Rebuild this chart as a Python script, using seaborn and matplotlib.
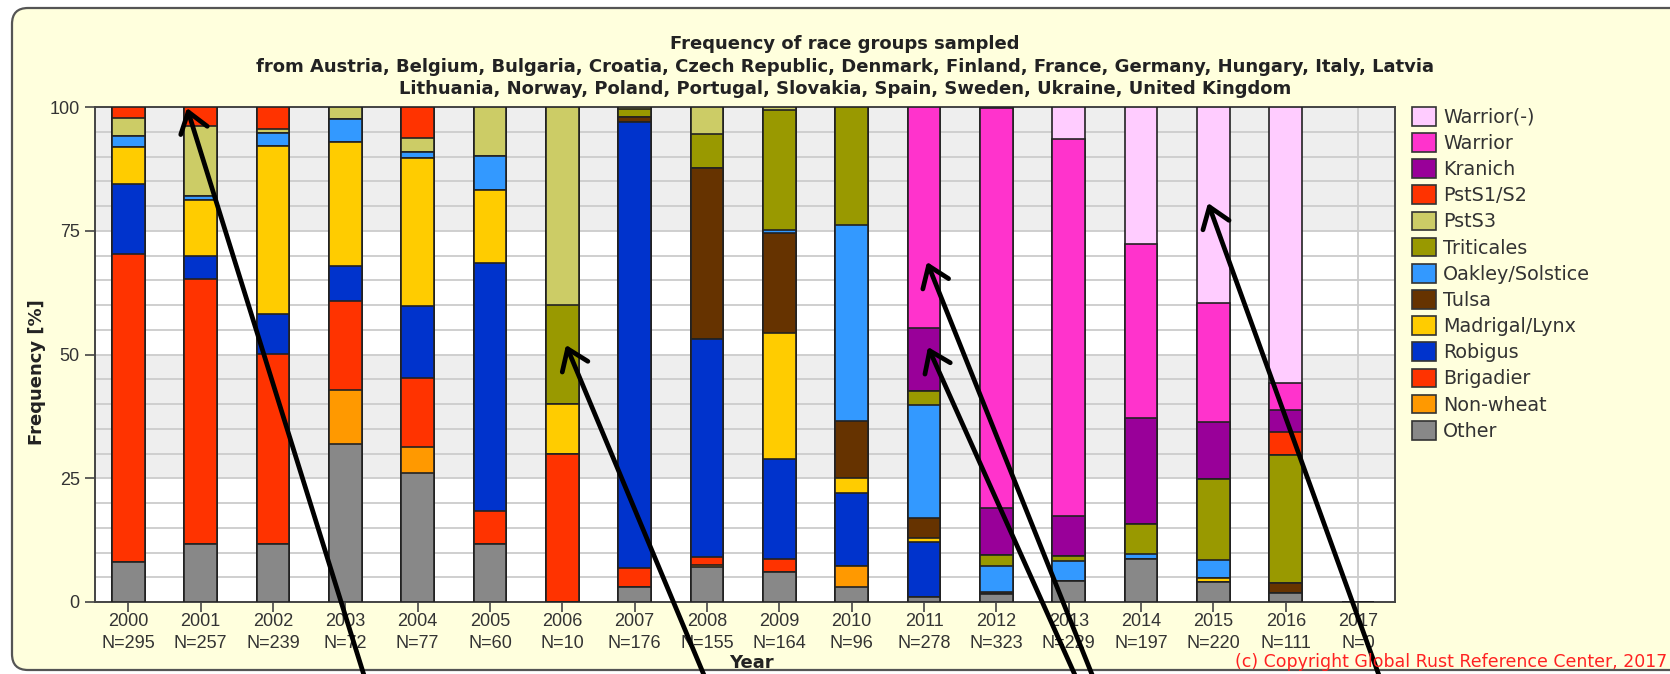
import matplotlib
matplotlib.use("Agg")
import matplotlib.pyplot as plt
from matplotlib.patches import Patch, FancyBboxPatch
from matplotlib.transforms import IdentityTransform
import seaborn as sns
import numpy as np

# ---- data -------------------------------------------------------------
years = [str(y) for y in range(2000, 2018)]
sample_sizes = [295, 257, 239, 72, 77, 60, 10, 176, 155, 164, 96, 278, 323,
                229, 197, 220, 111, 0]

# percent of isolates per race group, stacked bottom to top
other     = [8.0, 11.7, 11.7, 31.9, 26.0, 11.7, 0, 3.1, 7.0, 6.0, 3.1, 1.1, 1.7, 4.3, 8.7, 4.0, 1.8, 0]
non_wheat = [0, 0, 0, 11.0, 5.3, 0, 0, 0, 0.5, 0, 4.2, 0, 0, 0, 0, 0, 0, 0]
brigadier = [62.3, 53.6, 38.4, 18.0, 13.9, 6.6, 30, 3.7, 1.5, 2.7, 0, 0, 0, 0, 0, 0, 0, 0]
robigus   = [14.2, 4.6, 8.0, 7.0, 14.5, 50.1, 0, 90.2, 44.1, 20.1, 14.8, 11.0, 0, 0, 0, 0, 0, 0]
madrigal  = [7.5, 11.4, 34.0, 25.1, 30.0, 14.9, 10, 0, 0, 25.6, 2.9, 0.8, 0, 0, 0, 0.8, 0, 0]
tulsa     = [0, 0, 0, 0, 0, 0, 0, 1.0, 34.6, 20.1, 11.6, 4.1, 0.4, 0, 0, 0, 2.0, 0]
oakley    = [2.1, 0.7, 2.7, 4.5, 1.2, 6.8, 0, 0, 0, 0.7, 39.6, 22.7, 5.2, 4.0, 1.0, 3.7, 0, 0]
triticale = [0, 0, 0, 0, 0, 0, 20, 1.6, 6.8, 24.2, 23.8, 2.9, 2.1, 0.9, 6.0, 16.3, 25.9, 0]
psts3     = [3.7, 14.2, 0.7, 2.5, 2.9, 9.9, 40, 0.4, 5.5, 0.6, 0, 0, 0, 0, 0, 0, 0, 0]
psts1_s2  = [2.2, 3.85, 4.5, 0, 6.2, 0, 0, 0, 0, 0, 0, 0, 0, 0, 0, 0, 4.7, 0]
kranich   = [0, 0, 0, 0, 0, 0, 0, 0, 0, 0, 0, 12.7, 9.5, 8.2, 21.4, 11.6, 4.4, 0]
warrior   = [0, 0, 0, 0, 0, 0, 0, 0, 0, 0, 0, 44.7, 80.8, 76.1, 35.2, 24.1, 5.4, 0]
warrior_m = [0, 0, 0, 0, 0, 0, 0, 0, 0, 0, 0, 0, 0.3, 6.5, 27.7, 39.5, 55.8, 0]

group_names = ["Other", "Non-wheat", "Brigadier", "Robigus", "Madrigal/Lynx",
               "Tulsa", "Oakley/Solstice", "Triticales", "PstS3", "PstS1/S2",
               "Kranich", "Warrior", "Warrior(-)"]
group_values = [other, non_wheat, brigadier, robigus, madrigal, tulsa, oakley,
                triticale, psts3, psts1_s2, kranich, warrior, warrior_m]
group_colors = ["#888888", "#FF9900", "#FF3300", "#0033CC", "#FFCC00",
                "#663300", "#3399FF", "#999900", "#CCCC66", "#FF3300",
                "#990099", "#FF33CC", "#FFCCFF"]

tick_labels = [f"{y}\nN={n}" for y, n in zip(years, sample_sizes)]

# ---- figure -----------------------------------------------------------
W, H = 1670, 674
plt.rcParams["font.family"] = ["Liberation Sans", "DejaVu Sans"]
fig = plt.figure(figsize=(W / 100, H / 100), dpi=100, facecolor="white")

# pale yellow rounded panel behind everything
panel = FancyBboxPatch((12, 4), 1720, 662, boxstyle="round,pad=0,rounding_size=16",
                       transform=IdentityTransform(), facecolor="#FFFFDD",
                       edgecolor="#555555", linewidth=1.6, zorder=-10)
fig.patches.append(panel)

ax_l, ax_r, ax_t, ax_b = 95, 1395, 107, 602
ax = fig.add_axes([ax_l / W, (H - ax_b) / H, (ax_r - ax_l) / W, (ax_b - ax_t) / H])
ax.set_zorder(1)
ax.set_facecolor("white")

# alternating horizontal bands
for lo, hi in [(25, 50), (75, 100)]:
    ax.axhspan(lo, hi, color="#EEEEEE", zorder=0, lw=0)

# stacked bars: paint cumulative totals from the top group downwards
cum = np.cumsum(np.array(group_values), axis=0)
for i in range(len(group_names) - 1, -1, -1):
    sns.barplot(x=tick_labels, y=cum[i], order=tick_labels, color=group_colors[i],
                saturation=1, width=0.45, edgecolor="#222222", linewidth=1.2,
                errorbar=None, ax=ax, zorder=3)

ax.set_xlim(-0.46, 17.51)
ax.set_ylim(0, 100)
ax.set_yticks([0, 25, 50, 75, 100])
ax.set_yticks(np.arange(0, 101, 5), minor=True)
ax.grid(True, which="both", axis="y", color="#CCCCCC", linewidth=1.3, zorder=1)
ax.grid(True, which="major", axis="x", color="#CCCCCC", linewidth=1.3, zorder=1)
ax.set_axisbelow(True)
ax.tick_params(axis="y", which="minor", length=0)
ax.tick_params(axis="both", which="major", length=7, width=1.2, color="#444444",
               labelsize=13, labelcolor="#333333", pad=4)
ax.tick_params(axis="x", which="major", pad=1)
ax.set_xticks(range(len(tick_labels)))
ax.set_xticklabels(tick_labels, linespacing=1.35)
for s in ax.spines.values():
    s.set_color("#444444")
    s.set_linewidth(1.4)
ax.set_xlabel("")
ax.set_ylabel("")

# ---- texts ------------------------------------------------------------
title_lines = [
    "Frequency of race groups sampled",
    "from Austria, Belgium, Bulgaria, Croatia, Czech Republic, Denmark, Finland, France, Germany, Hungary, Italy, Latvia",
    "Lithuania, Norway, Poland, Portugal, Slovakia, Spain, Sweden, Ukraine, United Kingdom",
]
for k, line in enumerate(title_lines):
    fig.text(845 / W, 1 - (44 + 22.5 * k) / H, line, ha="center", va="center",
             fontsize=13.0, fontweight="bold", color="#222222", family="DejaVu Sans")

fig.text(37 / W, 1 - 372 / H, "Frequency [%]", rotation=90, ha="center",
         va="center", fontsize=13, fontweight="bold", color="#222222",
         family="DejaVu Sans")
fig.text(751 / W, 1 - 663 / H, "Year", ha="center", va="center",
         fontsize=13, fontweight="bold", color="#222222", family="DejaVu Sans")
fig.text(1667 / W, 1 - 662 / H, "(c) Copyright Global Rust Reference Center, 2017",
         ha="right", va="center", fontsize=12.5, color="#FF2222", family="DejaVu Sans")

# ---- legend -----------------------------------------------------------
handles = [Patch(facecolor=c, edgecolor="#333333", linewidth=1.2, label=n)
           for n, c in zip(group_names[::-1], group_colors[::-1])]
fig.legend(handles=handles, loc="upper left", bbox_to_anchor=(1412 / W, 1 - 107 / H),
           frameon=False, prop={"family": "DejaVu Sans", "size": 13.8},
           labelcolor="#333333", borderpad=0,
           borderaxespad=0, handlelength=1.27, handleheight=1.12,
           handletextpad=0.35, labelspacing=0.33)

# ---- pointer arrows ---------------------------------------------------
arrows = [  # (tip x, tip y, slope dx/dy) in pixels from the top-left
    (187, 108, 0.312),
    (566, 345, 0.418),
    (927, 262, 0.400),
    (928, 347, 0.448),
    (1208, 203, 0.362),
]
for tx, ty, slope in arrows:
    ey = H + 40
    ex = tx + slope * (ey - ty)
    ax.annotate("", xy=(tx, H - ty), xycoords="figure pixels",
                xytext=(ex, H - ey), textcoords="figure pixels",
                arrowprops=dict(arrowstyle="->,head_length=0.7,head_width=0.5",
                                mutation_scale=20, lw=3.4, color="black",
                                shrinkA=0, shrinkB=0),
                annotation_clip=False, zorder=10)

fig.savefig("out.png", dpi=100, facecolor=fig.get_facecolor())
